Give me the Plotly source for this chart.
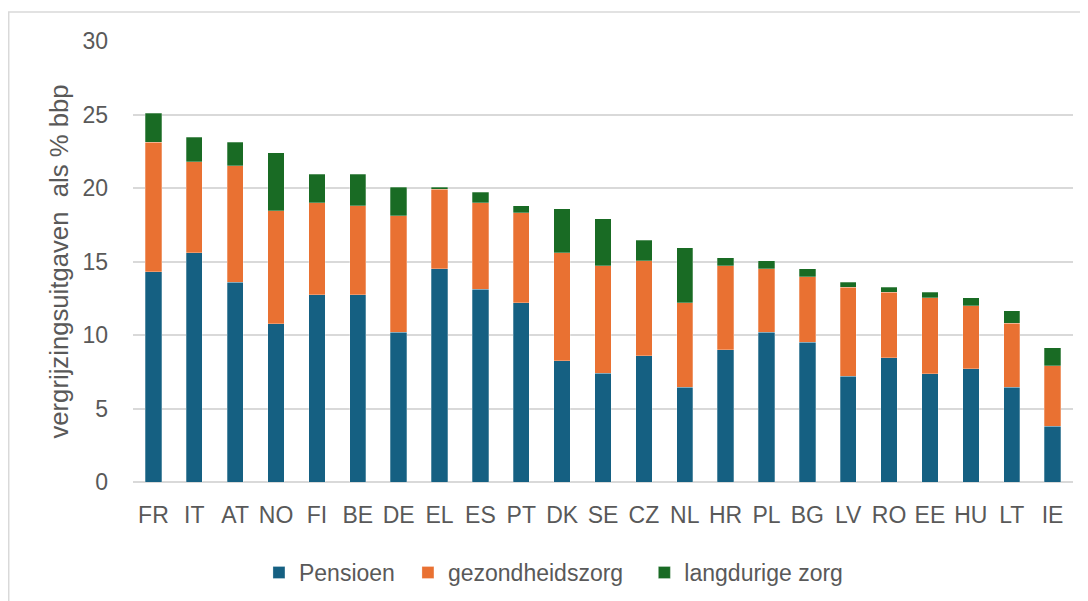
import plotly.graph_objects as go

countries = ["FR", "IT", "AT", "NO", "FI", "BE", "DE", "EL", "ES", "PT", "DK", "SE",
             "CZ", "NL", "HR", "PL", "BG", "LV", "RO", "EE", "HU", "LT", "IE"]
pensioen = [14.3, 15.6, 13.6, 10.75, 12.75, 12.75, 10.2, 14.5, 13.1, 12.2, 8.25, 7.4,
            8.6, 6.45, 9.0, 10.2, 9.5, 7.2, 8.45, 7.35, 7.7, 6.45, 3.8]
gezondheidszorg = [8.8, 6.2, 7.9, 7.7, 6.25, 6.05, 7.9, 5.4, 5.9, 6.1, 7.35, 7.3,
                   6.45, 5.75, 5.7, 4.3, 4.45, 6.05, 4.45, 5.2, 4.3, 4.35, 4.1]
langdurige_zorg = [2.0, 1.65, 1.6, 3.95, 1.95, 2.15, 1.95, 0.15, 0.7, 0.5, 3.0, 3.2,
                   1.4, 3.75, 0.55, 0.55, 0.55, 0.35, 0.35, 0.35, 0.55, 0.85, 1.25]
y_ticks = [0, 5, 10, 15, 20, 25, 30]

GRID = "#d9d9d9"
TXT = "#595959"
FONT = "Liberation Sans, Arial, sans-serif"

fig = go.Figure()
series = [("Pensioen", pensioen, "#156082", "legend"),
          ("gezondheidszorg", gezondheidszorg, "#E97132", "legend2"),
          ("langdurige zorg", langdurige_zorg, "#196B24", "legend3")]
for name, vals, col, lg in series:
    fig.add_trace(go.Bar(x=countries, y=vals, name=name, marker_color=col, legend=lg,
                         marker_line=dict(color="rgba(255,255,255,0.45)", width=0.6)))

def leg(x):
    return dict(orientation="h", x=x, xanchor="left", xref="paper",
                y=0.048, yanchor="middle", yref="container",
                font=dict(size=23, color=TXT), itemwidth=30, bgcolor="rgba(0,0,0,0)")

# the page body has an 8px margin, so the figure is 8px smaller and margins shifted
fig.update_layout(
    width=1080, height=593,
    barmode="stack", bargap=0.6,
    plot_bgcolor="white", paper_bgcolor="white",
    margin=dict(l=125, r=15, t=33, b=119),
    font=dict(family=FONT, color=TXT, size=23),
    showlegend=True,
    legend=leg(0.1340), legend2=leg(0.2925), legend3=leg(0.5440),
    xaxis=dict(showgrid=False, showline=False, ticks="", tickfont=dict(size=23, color=TXT),
               ticklabelstandoff=17, fixedrange=True),
    yaxis=dict(range=[0, 30], tickvals=y_ticks, showgrid=True, gridcolor=GRID, gridwidth=1.6,
               zeroline=True, zerolinecolor=GRID, zerolinewidth=1.6, showline=False, ticks="",
               tickfont=dict(size=23, color=TXT), ticklabelstandoff=24),
    annotations=[dict(text="vergrijzingsuitgaven\u00a0\u00a0als % bbp", textangle=-90,
                      xref="paper", yref="paper", x=-0.0797, y=0.5,
                      xanchor="center", yanchor="middle", showarrow=False,
                      font=dict(size=25.7, color=TXT, family=FONT))],
    shapes=[dict(type="rect", xref="paper", yref="paper",
                 x0=-0.1322, x1=1.03, y0=-0.3, y1=1.0657,
                 line=dict(color=GRID, width=1.5), fillcolor="rgba(0,0,0,0)", layer="below")],
)

fig.write_html("out.html")
